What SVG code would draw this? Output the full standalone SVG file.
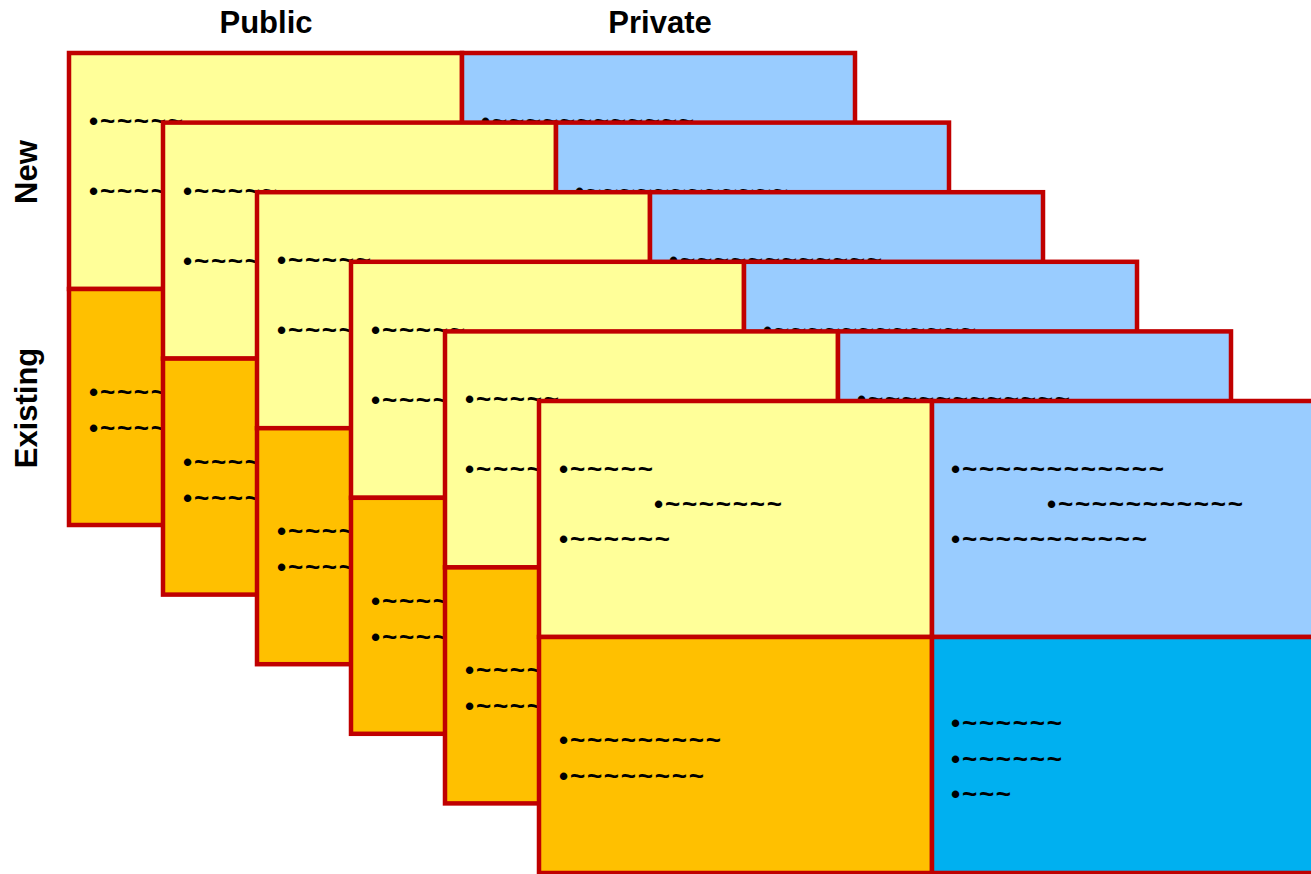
<svg xmlns="http://www.w3.org/2000/svg" xmlns:xlink="http://www.w3.org/1999/xlink" width="1311" height="874" viewBox="0 0 1311 874">
<style>
.q{stroke:#C00000;stroke-width:4.5;stroke-linejoin:miter}
.pn{fill:#FFFF99}
.pe{fill:#FFC000}
.vn{fill:#99CCFF}
.ve{fill:#00B0F0}
.t{font-family:"Liberation Sans",Arial,sans-serif;font-weight:bold;font-size:26px;letter-spacing:1.8px;fill:#000}
.h{font-family:"Liberation Sans",Arial,sans-serif;font-weight:bold;font-size:31px;fill:#000;text-anchor:middle}
</style>
<defs>
<g id="cardTpl">
<rect class="q pn" x="0" y="0" width="393" height="236"/>
<rect class="q vn" x="393" y="0" width="393" height="236"/>
<rect class="q pe" x="0" y="236" width="393" height="236"/>
<rect class="q ve" x="393" y="236" width="393" height="236"/>
<text class="t" x="20" y="77">•~~~~~</text>
<text class="t" x="115" y="112">•~~~~~~~</text>
<text class="t" x="20" y="147">•~~~~~~</text>
<text class="t" x="412" y="77">•~~~~~~~~~~~~</text>
<text class="t" x="508" y="112">•~~~~~~~~~~~</text>
<text class="t" x="412" y="147">•~~~~~~~~~~~</text>
<text class="t" x="20" y="348">•~~~~~~~~~</text>
<text class="t" x="20" y="384">•~~~~~~~~</text>
<text class="t" x="412" y="331">•~~~~~~</text>
<text class="t" x="412" y="367">•~~~~~~</text>
<text class="t" x="412" y="402">•~~~</text>
</g>
</defs>
<rect x="0" y="0" width="1311" height="874" fill="#FFFFFF"/>
<g id="labels">
<text class="h" x="266" y="33">Public</text>
<text class="h" x="660" y="33">Private</text>
<text class="h" transform="translate(37,172) rotate(-90)">New</text>
<text class="h" transform="translate(37,408) rotate(-90)">Existing</text>
</g>
<g id="card-1" transform="translate(69,53)"><use xlink:href="#cardTpl" href="#cardTpl"/></g>
<g id="card-2" transform="translate(163,122.6)"><use xlink:href="#cardTpl" href="#cardTpl"/></g>
<g id="card-3" transform="translate(257,192.2)"><use xlink:href="#cardTpl" href="#cardTpl"/></g>
<g id="card-4" transform="translate(351,261.8)"><use xlink:href="#cardTpl" href="#cardTpl"/></g>
<g id="card-5" transform="translate(445,331.4)"><use xlink:href="#cardTpl" href="#cardTpl"/></g>
<g id="card-6" transform="translate(539,401)"><use xlink:href="#cardTpl" href="#cardTpl"/></g>
<g id="connectors"></g>
</svg>
